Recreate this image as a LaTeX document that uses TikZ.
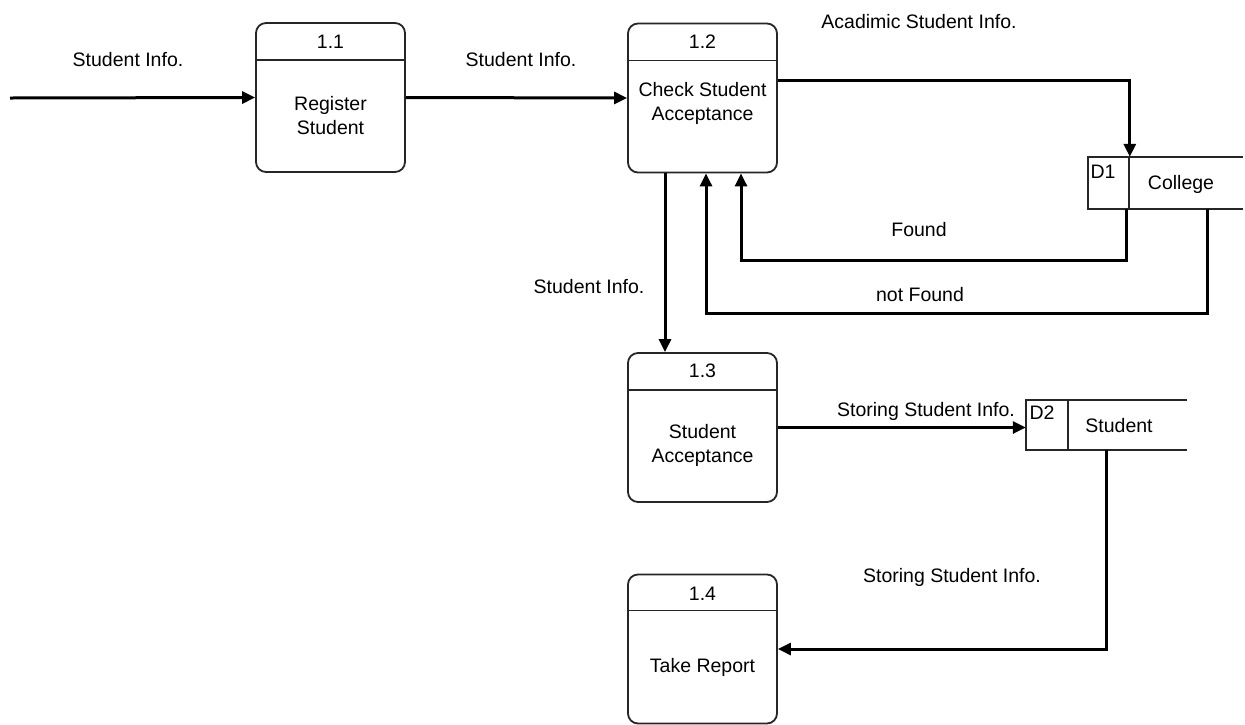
\documentclass[tikz,border=0pt]{standalone}
\usepackage{fontspec}
\setmainfont{Liberation Sans}
\usetikzlibrary{arrows.meta,calc}
\tikzset{
  proc/.style={draw=black!85, line width=1.8pt, rounded corners=10pt, minimum width=149pt, minimum height=149pt, inner sep=0pt},
  ptext/.style={align=center, font=\fontsize{19.5}{24}\selectfont, inner sep=0pt},
  lbl/.style={font=\fontsize{19.5}{24}\selectfont, inner sep=0pt},
  flow/.style={line width=3pt, -{Triangle[length=13pt,width=12pt]}},
  storeline/.style={line width=1.5pt, draw=black!85},
  store/.style={minimum width=155pt, minimum height=52pt, inner sep=0pt},
}
\begin{document}
\begin{tikzpicture}[x=1pt,y=-1pt]
\useasboundingbox (0,0) rectangle (1245,724);
% process boxes
\node[proc] (p11) at (330.5,97.5) {};
\node[proc] (p12) at (702.5,98) {};
\node[proc] (p13) at (702.5,427.5) {};
\node[proc] (p14) at (702.5,649) {};
% dividers
\draw[line width=1.5pt, black!85] ([yshift=-38pt]p11.north west) -- ([yshift=-38pt]p11.north east);
\draw[line width=1.5pt, black!85] ([yshift=-38pt]p12.north west) -- ([yshift=-38pt]p12.north east);
\draw[line width=1.5pt, black!85] ([yshift=-38pt]p13.north west) -- ([yshift=-38pt]p13.north east);
\draw[line width=1.5pt, black!85] ([yshift=-37pt]p14.north west) -- ([yshift=-37pt]p14.north east);
% process texts
\node[ptext] (t11) at (330.5,42) {1.1};
\node[ptext] (b11) at (330.5,116) {Register\\Student};
\node[ptext] (t12) at (702.5,42) {1.2};
\node[ptext] (b12) at (702.5,103) {Check Student\\Acceptance};
\node[ptext] (t13) at (702.5,371) {1.3};
\node[ptext] (b13) at (702.5,445) {Student\\Acceptance};
\node[ptext] (t14) at (702.5,594) {1.4};
\node[ptext] (b14) at (702.5,667) {Take Report};
% data stores
\node[store] (d1) at (1165.5,183) {};
\draw[storeline] (d1.north east) -- (d1.north west) -- (d1.south west) -- (d1.south east);
\draw[storeline] ([xshift=41pt]d1.north west) -- ([xshift=41pt]d1.south west);
\node[lbl] (d1id) at (1103,172) {D1};
\node[lbl] (d1n) at (1181,184) {College};
\node[store, minimum width=161pt, minimum height=50pt] (d2) at (1106.5,425) {};
\draw[storeline] (d2.north east) -- (d2.north west) -- (d2.south west) -- (d2.south east);
\draw[storeline] ([xshift=42pt]d2.north west) -- ([xshift=42pt]d2.south west);
\node[lbl] (d2id) at (1042,413) {D2};
\node[lbl] (d2n) at (1119,426) {Student};
% connectors
\coordinate (in) at (10,98);
\draw[flow] (in) -- (p11.west);
\draw[flow] (p11.east) -- (p12.west);
\draw[flow] ([yshift=18pt]p12.east) -| ([xshift=42pt]d1.north west);
\draw[flow] ([xshift=39pt]d1.south west) -- ++(0,51) -| ([xshift=38.5pt]p12.south);
\draw[flow] ([xshift=120pt]d1.south west) -- ++(0,104) -| ([xshift=3.5pt]p12.south);
\draw[flow] ([xshift=-37.5pt]p12.south) -- ([xshift=-37.5pt]p13.north);
\draw[flow] (p13.east) -- (p13.east -| d2.west);
\draw[flow] ([xshift=81pt]d2.south west) |- (p14.east);
% labels
\node[lbl] (l1) at (128,60) {Student Info.};
\node[lbl] (l2) at (521,60) {Student Info.};
\node[lbl] (l3) at (919,22) {Acadimic Student Info.};
\node[lbl] (l4) at (919,230) {Found};
\node[lbl] (l5) at (920,295) {not Found};
\node[lbl] (l6) at (589,287) {Student Info.};
\node[lbl] (l7) at (926,411) {Storing Student Info.};
\node[lbl] (l8) at (952,577) {Storing Student Info.};
\end{tikzpicture}
\end{document}
